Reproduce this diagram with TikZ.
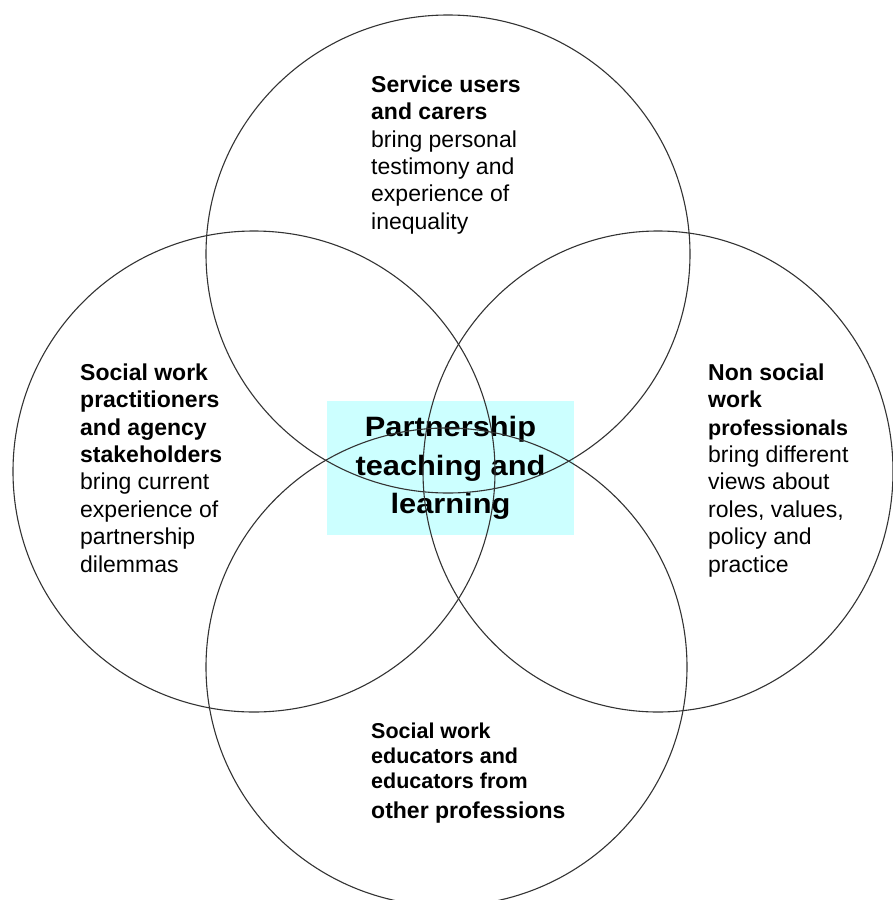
\documentclass[tikz,border=0pt]{standalone}
\usepackage{fontspec}
\setmainfont{Liberation Sans}
\newfontfamily\hubfont[FakeStretch=1.1]{Liberation Sans}
\usetikzlibrary{shapes.geometric}
\definecolor{hubcyan}{HTML}{CCFFFF}
\definecolor{ringline}{HTML}{333333}

\begin{document}
\begin{tikzpicture}[x=1pt,y=-1pt,
  ring/.style={draw=ringline, line width=1.1pt, shape=ellipse, inner sep=0pt},
  txtblock/.style={anchor=north west, inner sep=0pt, align=left,
    font=\fontsize{23}{27.4}\selectfont},
  hub/.style={fill=hubcyan, inner sep=0pt, align=center,
    minimum width=247pt, minimum height=134pt,
    font=\hubfont\bfseries\fontsize{28}{38.5}\selectfont}]

\useasboundingbox (0,0) rectangle (893,900);
\clip (0,0) rectangle (893,900);

% central shaded box sits beneath the four rings
\node[hub] (hub) at (450.5,468) {Partnership\\teaching and\\learning};

% the four overlapping rings
\node[ring, minimum width=484pt, minimum height=478pt] (top)    at (448,254) {};
\node[ring, minimum width=482pt, minimum height=481pt] (left)   at (254,471.5) {};
\node[ring, minimum width=470pt, minimum height=481pt] (right)  at (658,471.5) {};
\node[ring, minimum width=481pt, minimum height=478pt] (bottom) at (446.5,667) {};

% text of each ring
\node[txtblock] (toptext) at (371,74.75)
  {\rule{0pt}{0.75em}\textbf{Service users}\\\textbf{and carers}\\bring personal\\testimony and\\experience of\\inequality};

\node[txtblock] (lefttext) at (80,362.75)
  {\rule{0pt}{0.75em}\textbf{Social work}\\\textbf{practitioners}\\\textbf{and agency}\\\textbf{stakeholders}\\bring current\\experience of\\partnership\\dilemmas};

\node[txtblock] (righttext) at (708,362.75)
  {\rule{0pt}{0.75em}\textbf{Non social}\\\textbf{work}\\{\fontsize{21.5}{27.4}\selectfont\bfseries professionals}\\bring different\\views about\\roles, values,\\policy and\\practice};

\node[txtblock, font=\fontsize{21.5}{25}\selectfont\bfseries] (bottomtext) at (371,721.9)
  {\rule{0pt}{0.75em}Social work\\educators and\\educators from\\[5pt]{\fontsize{23}{25}\selectfont other professions}};
\end{tikzpicture}
\end{document}
